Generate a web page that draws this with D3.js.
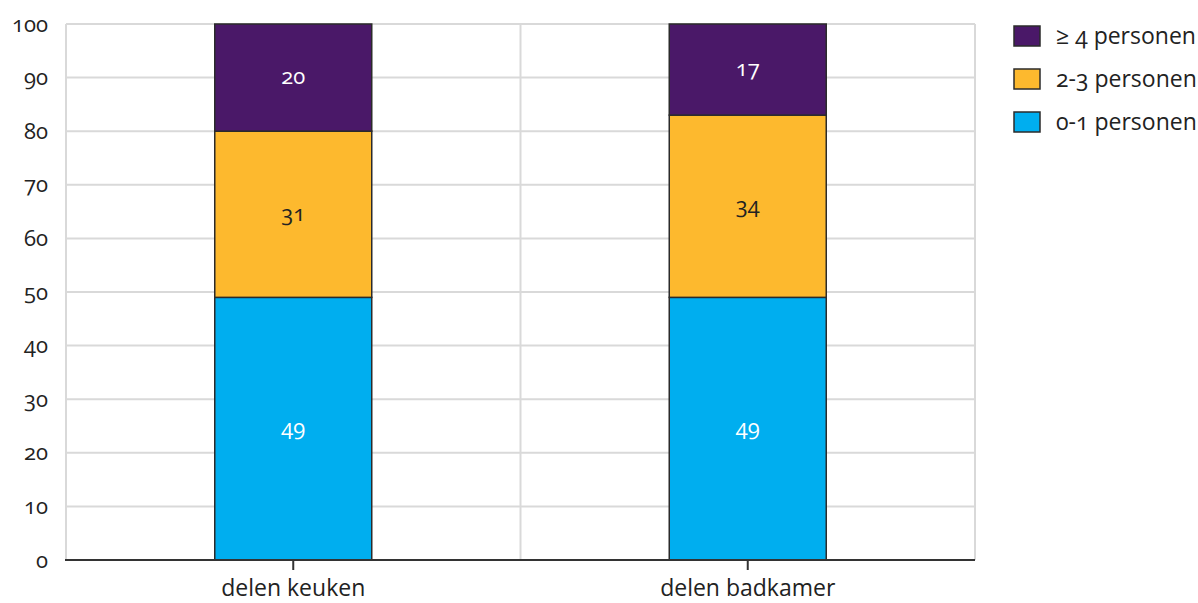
<!DOCTYPE html>
<html><head><meta charset="utf-8">
<script src="https://cdn.jsdelivr.net/npm/d3@7"></script>
<style>
body{margin:0;background:#fff;}
svg text{font-family:"Open Sans",sans-serif;font-variant-numeric:oldstyle-nums;font-feature-settings:"onum" 1;fill:#222;}
</style></head><body>
<svg id="c" width="1198" height="603"></svg>
<script>
const categories = ["delen keuken", "delen badkamer"];
const seriesNames = ["0-1 personen", "2-3 personen", "≥ 4 personen"];
const seriesColors = ["#00aeef", "#fdb92e", "#4a1868"];
const labelColors = ["#ffffff", "#222222", "#ffffff"];
const v01 = [49, 49];
const v23 = [31, 34];
const v4 = [20, 17];
const yTicks = [0,10,20,30,40,50,60,70,80,90,100];

const svg = d3.select("#c");
const m = {l:66, r:975, t:24, b:560};
const x = d3.scaleBand().domain(categories).range([m.l, m.r]).paddingInner(0).paddingOuter(0);
const y = d3.scaleLinear().domain([0,100]).range([m.b, m.t]);
const barW = 157;

// horizontal grid
svg.append("g").selectAll("line").data(yTicks.filter(d=>d>0)).join("line")
  .attr("x1", m.l).attr("x2", m.r).attr("y1", d=>y(d)).attr("y2", d=>y(d))
  .attr("stroke", "#d9d9d9").attr("stroke-width", 2);
// vertical grid
const vg = [m.l, x(categories[1]), m.r];
svg.append("g").selectAll("line").data(vg).join("line")
  .attr("x1", d=>d).attr("x2", d=>d).attr("y1", m.t).attr("y2", m.b)
  .attr("stroke", "#d9d9d9").attr("stroke-width", 2);

// y axis labels
const yAxis = d3.axisLeft(y).tickValues(yTicks).tickSize(0).tickPadding(18);
const ya = svg.append("g").attr("transform", `translate(${m.l},0)`).call(yAxis);
ya.select(".domain").remove();
ya.attr("font-family", null).attr("font-size", null);
ya.selectAll("text").attr("font-size", 22).attr("fill", "#222");

// stacked data
const data = categories.map((c,i)=>({cat:c, a:v01[i], b:v23[i], c:v4[i]}));
const stack = d3.stack().keys(["a","b","c"])(data);
stack.forEach((layer, li) => {
  const g = svg.append("g");
  g.selectAll("rect").data(layer).join("rect")
    .attr("x", d=>x(d.data.cat) + x.bandwidth()/2 - barW/2)
    .attr("width", barW)
    .attr("y", d=>y(d[1]))
    .attr("height", d=>y(d[0]) - y(d[1]))
    .attr("fill", seriesColors[li])
    .attr("stroke", "#2b2b2b").attr("stroke-width", 1.5);
  g.selectAll("text").data(layer).join("text")
    .attr("x", d=>x(d.data.cat) + x.bandwidth()/2)
    .attr("y", d=>y((d[0]+d[1])/2))
    .attr("dy", "0.3em")
    .attr("text-anchor", "middle")
    .attr("font-size", 22)
    .style("fill", labelColors[li])
    .text(d=>d[1]-d[0]);
});

// x axis
const xa = svg.append("g").attr("transform", `translate(0,${m.b})`)
  .call(d3.axisBottom(x).tickSize(10).tickPadding(10));
xa.attr("font-family", null).attr("font-size", null);
xa.select(".domain").attr("d", `M${m.l-1},0H${m.r}`).attr("stroke", "#333").attr("stroke-width", 2);
xa.selectAll(".tick line").attr("stroke", "#333").attr("stroke-width", 2);
xa.selectAll("text").attr("font-size", 23).attr("fill", "#222");

// legend
const legItems = [2,1,0];
const lg = svg.append("g");
legItems.forEach((si, k) => {
  const yy = 36 + k*43;
  lg.append("rect").attr("x", 1014).attr("y", yy-10).attr("width", 26).attr("height", 20)
    .attr("fill", seriesColors[si]).attr("stroke", "#2b2b2b").attr("stroke-width", 1.5);
  lg.append("text").attr("x", 1056).attr("y", yy).attr("dy", "0.33em")
    .attr("font-size", 23).text(seriesNames[si]);
});
</script></body></html>
